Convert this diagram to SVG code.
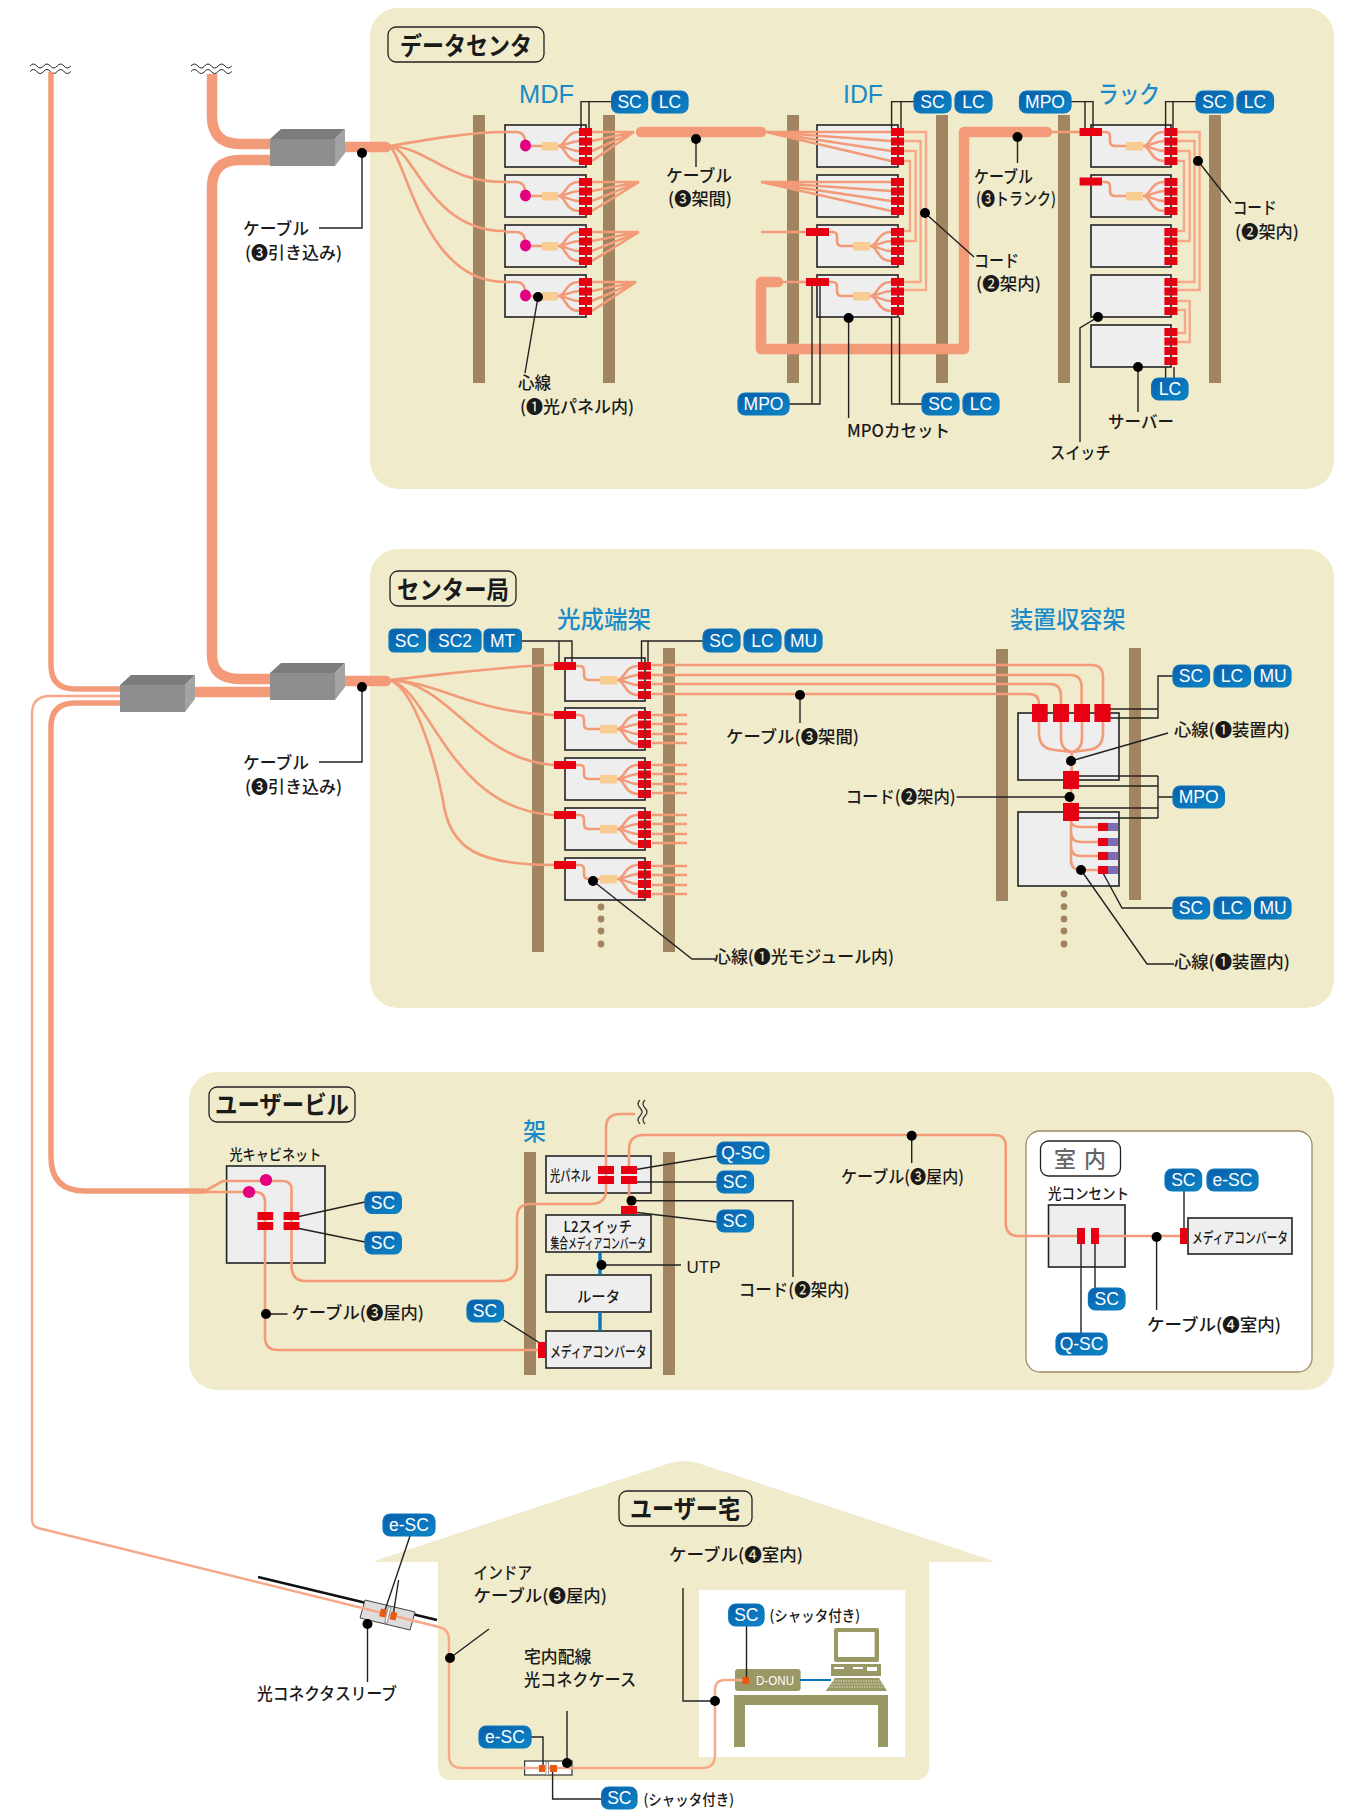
<svg xmlns="http://www.w3.org/2000/svg" width="1349" height="1810" viewBox="0 0 1349 1810">
<style>
text{font-family:"Noto Sans CJK JP","Noto Sans",sans-serif;fill:#1a1a1a}
.t{font-size:17px;font-weight:500}
.ts{font-size:15px;font-weight:500}
.title{font-size:25px;font-weight:700}
.h{font-size:25px;fill:#1a8bc8;font-family:"Liberation Sans","Noto Sans CJK JP",sans-serif}
.hj{font-size:24px;fill:#1a8bc8;font-weight:500}
.tag{fill:url(#tg);stroke:#0b78bc;stroke-width:1.2}
.tagt{font-family:"Liberation Sans",sans-serif;font-size:17.5px;fill:#fff;text-anchor:middle}
.panel{fill:#f0ebcb}
.post{fill:#a08560}
.box{fill:#eeeeee;stroke:#222;stroke-width:1.6}
.tb{fill:none;stroke:#222;stroke-width:1.3}
.c{fill:none;stroke:#f39b78;stroke-width:2.6}
.cl{fill:none;stroke:#f6a988;stroke-width:2.4}
.k{fill:none;stroke:#f39b78;stroke-width:10.5;stroke-linecap:round;stroke-linejoin:round}
.m{fill:none;stroke:#f39b78;stroke-width:5.5}
.l{fill:none;stroke:#222;stroke-width:1.4}
.d{fill:#000}
.r{fill:#e60012}
.tan{fill:#f9cc92}
.mg{fill:#e4007f}
.ol{fill:#9a9864}
.bd{fill:#a08560}
</style>
<defs>
<linearGradient id="tg" x1="0" y1="0" x2="1" y2="1"><stop offset="0" stop-color="#0a5dab"/><stop offset="1" stop-color="#0b88c8"/></linearGradient>
<g id="c4">
<rect class="r" x="0" y="3" width="6.3" height="8"/><rect class="r" x="6.7" y="3" width="6.3" height="8"/>
<rect class="r" x="0" y="12.5" width="6.3" height="8"/><rect class="r" x="6.7" y="12.5" width="6.3" height="8"/>
<rect class="r" x="0" y="22" width="6.3" height="8"/><rect class="r" x="6.7" y="22" width="6.3" height="8"/>
<rect class="r" x="0" y="32" width="6.3" height="8"/><rect class="r" x="6.7" y="32" width="6.3" height="8"/>
</g>
<g id="fan"><path class="c" d="M0,14C8,14 7,0 21,0M0,14C8,14 12,9 21,9M0,14C8,14 12,19 21,19M0,14C8,14 7,29 21,29"/></g>
<g id="mod"><path class="c" d="M0,0H4Q8,0 8,5V9Q8,14 13,14H24"/><rect class="tan" x="24" y="10" width="17" height="8.5"/><use href="#fan" x="41" y="0"/></g>
<g id="mdf"><path class="c" d="M0,7H11Q19,7 20,15M20,21H37"/><ellipse class="mg" cx="20.5" cy="20.5" rx="5.5" ry="6"/><rect class="tan" x="37" y="17" width="16" height="8.5"/><use href="#fan" x="53" y="7"/></g>
<path id="wave" d="M0,3q3.4,-4 6.8,0t6.8,0t6.8,0t6.8,0t6.8,0t6.8,0" fill="none" stroke="#222" stroke-width="1"/>
<g id="splice">
<polygon points="270,139 281,129 345,129 335,139" fill="#7c7c7c"/>
<polygon points="335,139 345,129 345,153 335,166" fill="#a3a3a3"/>
<rect x="270" y="139" width="65" height="27" fill="#8e8e8e"/>
</g>
</defs>

<g id="panels">
<rect class="panel" x="370" y="8" width="964" height="481" rx="28"/>
<rect class="panel" x="370" y="549" width="964" height="459" rx="28"/>
<rect class="panel" x="189" y="1072" width="1145" height="318" rx="28"/>
<rect x="1026" y="1131" width="286" height="241" rx="14" fill="#fff" stroke="#a08a6a" stroke-width="1.3"/>
<path class="panel" d="M375,1562Q375,1561 380,1559L670,1463Q684,1459 698,1463L988,1559Q993,1561 993,1562H929V1766Q929,1780 915,1780H452Q438,1780 438,1766V1562Z"/>
<rect x="699" y="1590" width="206" height="167" fill="#fff"/>
</g>

<g id="titles">
<g id="title-dc"><rect class="tb" x="388" y="27" width="156" height="35" rx="8"/><text class="title" x="400" y="55" textLength="132" lengthAdjust="spacingAndGlyphs">データセンタ</text></g>
<g id="title-co"><rect class="tb" x="390" y="571" width="126" height="35" rx="8"/><text class="title" x="397" y="599" textLength="112" lengthAdjust="spacingAndGlyphs">センター局</text></g>
<g id="title-ub"><rect class="tb" x="209" y="1087" width="146" height="35" rx="8"/><text class="title" x="215" y="1114" textLength="134" lengthAdjust="spacingAndGlyphs">ユーザービル</text></g>
<g id="title-room"><rect class="tb" x="1040.5" y="1141" width="80" height="35" rx="8"/><text x="1054" y="1167" style="font-size:22px;font-weight:500;fill:#666;white-space:pre" textLength="52" lengthAdjust="spacing">室 内</text></g>
<g id="title-home"><rect class="tb" x="619" y="1491" width="133" height="35" rx="8"/><text class="title" x="630" y="1518" textLength="110" lengthAdjust="spacingAndGlyphs">ユーザー宅</text></g>
</g>

<g id="racks">
<g id="rack-mdf"><rect class="post" x="473" y="115" width="12" height="268"/><rect class="post" x="603" y="115" width="12" height="268"/>
<rect class="box" x="505" y="125" width="81" height="42"/><rect class="box" x="505" y="175" width="81" height="42"/><rect class="box" x="505" y="225" width="81" height="42"/><rect class="box" x="505" y="275" width="81" height="42"/></g>
<g id="rack-idf"><rect class="post" x="787" y="115" width="12" height="268"/><rect class="post" x="936" y="115" width="12" height="268"/>
<rect class="box" x="817" y="125" width="81" height="42"/><rect class="box" x="817" y="175" width="81" height="42"/><rect class="box" x="817" y="225" width="81" height="42"/><rect class="box" x="817" y="275" width="81" height="42"/></g>
<g id="rack-server"><rect class="post" x="1058" y="115" width="12" height="268"/><rect class="post" x="1209" y="115" width="12" height="268"/>
<rect class="box" x="1091" y="125" width="80" height="42"/><rect class="box" x="1091" y="175" width="80" height="42"/><rect class="box" x="1091" y="225" width="80" height="42"/><rect class="box" x="1091" y="275" width="80" height="42"/><rect class="box" x="1091" y="325" width="80" height="42"/></g>
<g id="rack-odf"><rect class="post" x="532" y="648" width="12" height="304"/><rect class="post" x="663" y="648" width="12" height="304"/>
<rect class="box" x="565" y="658" width="80" height="43"/><rect class="box" x="565" y="708" width="80" height="42"/><rect class="box" x="565" y="758" width="80" height="42"/><rect class="box" x="565" y="808" width="80" height="42"/><rect class="box" x="565" y="858" width="80" height="42"/>
<g class="bd"><ellipse cx="601" cy="907" rx="3.4" ry="3.4"/><ellipse cx="601" cy="919" rx="3.4" ry="3.4"/><ellipse cx="601" cy="931" rx="3.4" ry="3.4"/><ellipse cx="601" cy="944" rx="3.4" ry="3.4"/></g></g>
<g id="rack-equip"><rect class="post" x="996" y="649" width="12" height="252"/><rect class="post" x="1129" y="648" width="12" height="252"/>
<rect class="box" x="1018" y="713" width="101" height="67"/><rect class="box" x="1018" y="812" width="101" height="74"/>
<g class="bd"><ellipse cx="1064" cy="894" rx="3.4" ry="3.4"/><ellipse cx="1064" cy="906.6" rx="3.4" ry="3.4"/><ellipse cx="1064" cy="919" rx="3.4" ry="3.4"/><ellipse cx="1064" cy="931" rx="3.4" ry="3.4"/><ellipse cx="1064" cy="944" rx="3.4" ry="3.4"/></g></g>
<g id="rack-ub"><rect class="post" x="524" y="1152" width="12" height="223"/><rect class="post" x="663" y="1152" width="12" height="223"/>
<rect class="box" x="546" y="1156" width="105" height="37"/><rect class="box" x="546" y="1215" width="105" height="37"/><rect class="box" x="546" y="1275" width="105" height="37"/><rect class="box" x="546" y="1331" width="105" height="37"/></g>
<g id="cabinet"><rect class="box" x="226.6" y="1166" width="98.4" height="97"/></g>
<g id="outlet"><rect class="box" x="1048.5" y="1205" width="76.5" height="62"/></g>
<g id="mc-room"><rect class="box" x="1188" y="1218" width="104" height="36"/></g>
<g id="computer">
<rect class="ol" x="834" y="1628" width="45" height="34" rx="2"/><rect x="838" y="1632" width="36.6" height="25" fill="#fff"/>
<rect class="ol" x="831" y="1664" width="50" height="12"/><rect x="834" y="1667" width="10" height="2" fill="#fff"/><rect x="853" y="1667" width="10" height="2" fill="#fff"/><rect x="867" y="1667" width="10" height="4" fill="#fff"/>
<polygon class="ol" points="835,1678 879,1678 887,1691 825.7,1691"/>
<path d="M833,1681H881M831,1684H883M829,1687H885" stroke="#dcdcc0" stroke-width="1" stroke-dasharray="1.5 1"/>
<rect class="ol" x="734" y="1695" width="154" height="10"/><rect class="ol" x="734" y="1695" width="11" height="52"/><rect class="ol" x="878" y="1695" width="10" height="52"/>
</g>
<g id="sleeve-wire"><path d="M258,1577L437,1620" stroke="#111" stroke-width="2.6" fill="none"/><polygon points="365,1600 415,1612 410,1630 360,1618" fill="#ddd" stroke="#444" stroke-width="1"/></g>
<g id="onu"><rect class="ol" x="735" y="1669" width="65.6" height="22" rx="3"/><text x="756" y="1685" style="font-family:'Liberation Sans',sans-serif;font-size:12.5px;fill:#fff" textLength="38" lengthAdjust="spacingAndGlyphs">D-ONU</text></g>
<g id="caseBox"><rect x="524.6" y="1761" width="47.4" height="14" fill="#fff" stroke="#333" stroke-width="1.2"/></g>
</g>

<g id="connectors">
<use href="#wave" x="30" y="63"/><use href="#wave" x="30" y="68.500"/><use href="#wave" x="191" y="63"/><use href="#wave" x="191" y="68.500"/>
<path class="m" d="M51,72V665Q51,689 75,689H120"/>
<path class="m" d="M120,703H75Q51,703 51,727V1157Q51,1191 85,1191H205"/>
<path class="cl" d="M120,696H50Q32,696 32,714V1520Q32,1526 38,1528L439,1627Q449,1629 449,1640V1755Q449,1768 462,1768H702Q715,1768 715,1755V1690Q715,1680 725,1680H745"/>
<path class="k" style="stroke-linecap:butt" d="M270,144H240Q212,144 212,116V74"/>
<path class="k" style="stroke-linecap:butt" d="M270,160H240Q212,160 212,188V655Q212,679 240,679H270"/>
<path class="k" d="M190,692H270"/>
<path class="k" d="M343,147H386"/><path class="k" d="M343,681H386"/>

<path class="c" d="M390,146C425,140 470,132 505,132M390,146C430,148 445,182 505,182M390,146C415,150 430,231 505,231M390,146C408,165 425,282 505,282"/>
<use href="#mdf" x="505" y="125"/><use href="#mdf" x="505" y="175"/><use href="#mdf" x="505" y="225"/><use href="#mdf" x="505" y="275"/>
<path class="c" d="M592,132H634M592,141L634,132M592,151L634,132M592,161L634,132M592,182H639M592,191L639,182M592,201L639,182M592,211L639,182M592,232H639M592,241L639,232M592,251L639,232M592,261L639,232M592,282H636M592,291L636,282M592,301L636,282M592,311L636,282"/>
<path class="k" d="M641,132H761"/>
<path class="c" d="M766,132H891M766,132L891,141M766,132L891,151M766,132L891,161M761,182H891M761,182L891,191M761,182L891,201M761,182L891,211M761,232H806M778,282H806"/>
<use href="#mod" x="829" y="232"/><use href="#mod" x="829" y="282"/>
<path class="k" d="M778,282H761V349H964V132H1047"/>
<path class="c" d="M1050,132H1080"/>
<path class="cl" d="M904,132H926V290H904M904,141H920.6V282H904M904,151H915.6V241H904M904,161H910V231H904"/>
<use href="#mod" x="1102" y="132"/><use href="#mod" x="1102" y="182"/>
<path class="cl" d="M1177,132H1199.6V290H1177M1177,141H1194.6V282H1177M1177,151H1189.7V241H1177M1177,161H1184V231H1177M1177,301H1189.7V342H1177M1177,310H1185V333H1177"/>

<path class="c" d="M390,680C440,675 500,666 554,665M390,680C440,682 470,712 554,715M390,680C450,682 475,760 554,765M390,680C430,690 450,810 554,815M390,680C415,690 435,760 443,800C449,850 480,865 554,865"/>
<use href="#mod" x="576" y="666"/><use href="#mod" x="576" y="715"/><use href="#mod" x="576" y="765"/><use href="#mod" x="576" y="815"/><use href="#mod" x="576" y="865"/>
<path class="c" d="M652,715H687M652,724H687M652,734H687M652,743H687M652,765H687M652,774H687M652,784H687M652,793H687M652,815H687M652,824H687M652,834H687M652,843H687M652,866H687M652,875H687M652,885H687M652,894H687"/>
<path class="c" d="M652,665H1091Q1103,665 1103,677V705M652,675H1070Q1081.6,675 1081.6,687V705M652,684H1050Q1061,684 1061,696V705M652,694H1029Q1039,694 1039,704V705"/>
<path class="c" d="M1039,722V733Q1039,749 1055,750L1071.7,752M1103,722V733Q1103,749 1087,750L1071.7,752M1061,722V738Q1061,750 1071.7,752M1082,722V738Q1082,750 1071.7,752M1071.7,752V771"/>
<path class="c" d="M1071,789V803M1071,821V860Q1071,870 1081,870H1098M1071,821Q1071,827 1081,827H1098M1071,832Q1071,842 1081,842H1098M1071,846Q1071,856 1081,856H1098"/>

<path class="c" d="M205,1191L223,1181H283Q291.5,1181 291.5,1190V1265Q291.5,1281 305,1281H500Q517,1281 517,1265V1218Q517,1204 530,1204H590Q606,1204 606,1190V1128Q606,1114 620,1114H635"/>
<path class="c" d="M205,1192H255Q265,1192 265,1202V1337Q265,1350 278,1350H538"/>
<path class="c" d="M629,1166V1150Q629,1135 644,1135H995Q1005.7,1135 1005.7,1146V1222Q1005.7,1236 1018,1236H1077M629,1184V1206M1099,1236H1181"/>
<path d="M640,1100q-4,4 0,8t0,8t0,8M645,1100q-4,4 0,8t0,8t0,8" fill="none" stroke="#333" stroke-width="1.2"/>
<path d="M600,1252V1275M600,1312V1331" fill="none" stroke="#0b74bd" stroke-width="3.4"/>
<path d="M800,1680H831" fill="none" stroke="#0b74bd" stroke-width="2"/>

<path class="l" d="M611.6,101.6H581V128M589,101.6V128M914,101.6H891.6V128M901,101.6V128M1071,101.6H1093V128M1085,101.6V128M1196,101.6H1165.6V128M1173,101.6V128"/>
<path class="l" d="M738,404H820V286M812,404V286M922,404H891.6V317M899.5,404V317"/>
<path class="l" d="M1165.6,378V367M1174,378V367"/>
<path class="l" d="M362,153V228H319M696,139V167M1017.5,137V163M925,213L974,257M1198,161L1231,203M848.6,318V418M1098,317L1080,328V442M1138,367V412M538,297L525,373"/>
<path class="l" d="M521.4,641H572V662M559,641V662M703,641H641.5V662M648,641V662"/>
<path class="l" d="M362,687V762H319M800,695V723M593,881L692,959H715"/>
<path class="l" d="M1173,676H1158V718H1100M1158,709H1100M1071,797H956.6M1173,797H1158M1158,776V818M1071,776H1158M1071,786H1158M1071,808H1158M1071,818H1158M1173,908H1122L1103,873M1071,761L1168,733M1081,870L1147,964H1174"/>
<path class="l" d="M717,1156L633,1170M717,1182H633M717,1222L633,1212M631.5,1200.7H793V1277M601.5,1265H681M365,1202L296.6,1217M365,1242L296.6,1228M503.5,1320L543,1345M266,1314H287.5"/>
<path class="l" d="M911.7,1135.7V1163M1156.6,1237V1310M1184,1191V1228M1095,1244V1288M1081,1244V1333"/>
<path class="l" d="M410,1536L384,1613M398.6,1580L393.5,1613M367.5,1624V1682M450,1658L489,1629M567,1711V1763M531,1737H543V1765M552.6,1772V1799H601.6M683,1588V1701H715M746.5,1626V1680"/>
</g>

<g id="splices">
<use href="#splice"/><use href="#splice" y="534"/><use href="#splice" x="-150" y="546"/>
</g>

<g id="ports">
<use href="#c4" x="579" y="125"/><use href="#c4" x="579" y="175"/><use href="#c4" x="579" y="225"/><use href="#c4" x="579" y="275"/>
<use href="#c4" x="891" y="125"/><use href="#c4" x="891" y="175"/><use href="#c4" x="891" y="225"/><use href="#c4" x="891" y="275"/>
<rect class="r" x="806" y="228" width="23" height="8"/><rect class="r" x="806" y="278" width="23" height="8"/>
<use href="#c4" x="1164.4" y="125"/><use href="#c4" x="1164.4" y="175"/><use href="#c4" x="1164.4" y="225"/><use href="#c4" x="1164.4" y="275"/><use href="#c4" x="1164.4" y="325"/>
<rect class="r" x="1079.6" y="128" width="22.4" height="8"/><rect class="r" x="1079.6" y="177.5" width="22.4" height="8"/>
<use href="#c4" x="638" y="659"/><use href="#c4" x="638" y="708"/><use href="#c4" x="638" y="758"/><use href="#c4" x="638" y="808"/><use href="#c4" x="638" y="858"/>
<rect class="r" x="554" y="662" width="22" height="8"/><rect class="r" x="554" y="711" width="22" height="8"/><rect class="r" x="554" y="761" width="22" height="8"/><rect class="r" x="554" y="811" width="22" height="8"/><rect class="r" x="554" y="861" width="22" height="8"/>
<rect class="r" x="1032" y="704" width="15.7" height="18"/><rect class="r" x="1053" y="704" width="16" height="18"/><rect class="r" x="1074" y="704" width="16" height="18"/><rect class="r" x="1094.4" y="704" width="16.2" height="18"/>
<rect class="r" x="1063" y="771" width="16" height="18"/><rect class="r" x="1063" y="803" width="16" height="18"/>
<rect class="r" x="1098" y="823" width="10" height="8"/><rect class="r" x="1098" y="838" width="10" height="8"/><rect class="r" x="1098" y="852" width="10" height="8"/><rect class="r" x="1098" y="866" width="10" height="8"/>
<g fill="#7f6cb0"><rect x="1108" y="823" width="10" height="8"/><rect x="1108" y="838" width="10" height="8"/><rect x="1108" y="852" width="10" height="8"/><rect x="1108" y="866" width="10" height="8"/></g>
<g class="mg"><ellipse cx="266" cy="1180" rx="6.2" ry="6"/><ellipse cx="249" cy="1192" rx="6.2" ry="6"/></g>
<rect class="r" x="257.5" y="1212" width="15.7" height="8"/><rect class="r" x="257.5" y="1222" width="15.7" height="8"/><rect class="r" x="283.6" y="1212" width="15.8" height="8"/><rect class="r" x="283.6" y="1222" width="15.8" height="8"/>
<rect class="r" x="598" y="1166" width="16" height="8"/><rect class="r" x="598" y="1176" width="16" height="8"/><rect class="r" x="621" y="1166" width="16" height="8"/><rect class="r" x="621" y="1176" width="16" height="8"/>
<rect class="r" x="621" y="1206" width="16" height="8"/><rect class="r" x="538" y="1342" width="8" height="16"/>
<rect class="r" x="1077" y="1228" width="8" height="16"/><rect class="r" x="1091" y="1228" width="8" height="16"/><rect class="r" x="1180" y="1228" width="7.5" height="16"/>
<g fill="#e8590c"><rect x="380" y="1609" width="6" height="8" transform="rotate(13 383 1613)"/><rect x="390.5" y="1612" width="6" height="8" transform="rotate(13 393.5 1616)"/><rect x="539" y="1765" width="6" height="7"/><rect x="550" y="1765" width="7" height="7"/><rect x="742.5" y="1677" width="6.5" height="7"/></g>
<rect x="386.5" y="1607" width="2.6" height="16" fill="#fff" stroke="#555" stroke-width=".6" transform="rotate(13 388 1615)"/>
<rect x="546" y="1762" width="2.6" height="13" fill="#fff" stroke="#555" stroke-width=".6"/>
</g>

<g id="dots" class="d">
<circle cx="362" cy="153" r="5"/><circle cx="696" cy="139" r="5"/><circle cx="1017.5" cy="137" r="5"/><circle cx="925" cy="213" r="5"/><circle cx="1198" cy="161" r="5"/><circle cx="848.6" cy="318" r="5"/><circle cx="1098" cy="317" r="5"/><circle cx="1138" cy="367" r="5"/><circle cx="538" cy="297" r="5"/>
<circle cx="362" cy="687" r="5"/><circle cx="800" cy="695" r="5"/><circle cx="593" cy="881" r="5"/><circle cx="1071" cy="761" r="5"/><circle cx="1069.6" cy="797" r="5"/><circle cx="1081" cy="870" r="5"/>
<circle cx="631.5" cy="1200.7" r="5"/><circle cx="601.5" cy="1265" r="5"/><circle cx="266" cy="1314" r="5"/><circle cx="911.7" cy="1135.7" r="5"/><circle cx="1156.6" cy="1237" r="5"/>
<circle cx="367.5" cy="1624" r="5"/><circle cx="450" cy="1658" r="5"/><circle cx="567" cy="1763" r="5"/><circle cx="715" cy="1701" r="5"/>
</g>

<g id="tags">
<g id="tag-mdf-sc"><rect class="tag" x="611.6" y="91" width="36" height="22" rx="7"/><text class="tagt" x="629.6" y="108">SC</text></g>
<g id="tag-mdf-lc"><rect class="tag" x="652" y="91" width="36" height="22" rx="7"/><text class="tagt" x="670" y="108">LC</text></g>
<g id="tag-idf-sc"><rect class="tag" x="914" y="91" width="37" height="22" rx="7"/><text class="tagt" x="932.5" y="108">SC</text></g>
<g id="tag-idf-lc"><rect class="tag" x="955" y="91" width="37" height="22" rx="7"/><text class="tagt" x="973.5" y="108">LC</text></g>
<g id="tag-rack-mpo"><rect class="tag" x="1019.5" y="91" width="51.5" height="22" rx="7"/><text class="tagt" x="1045" y="108">MPO</text></g>
<g id="tag-rack-sc"><rect class="tag" x="1196" y="91" width="37" height="22" rx="7"/><text class="tagt" x="1214.5" y="108">SC</text></g>
<g id="tag-rack-lc"><rect class="tag" x="1237" y="91" width="36.5" height="22" rx="7"/><text class="tagt" x="1255" y="108">LC</text></g>
<g id="tag-idf-mpo"><rect class="tag" x="738" y="393" width="51" height="22" rx="7"/><text class="tagt" x="763.5" y="410">MPO</text></g>
<g id="tag-idf-sc2"><rect class="tag" x="922" y="393" width="37" height="22" rx="7"/><text class="tagt" x="940.5" y="410">SC</text></g>
<g id="tag-idf-lc2"><rect class="tag" x="963" y="393" width="36" height="22" rx="7"/><text class="tagt" x="981" y="410">LC</text></g>
<g id="tag-rack-lc2"><rect class="tag" x="1151.6" y="378" width="36.4" height="22" rx="7"/><text class="tagt" x="1170" y="395">LC</text></g>
<g id="tag-co-sc"><rect class="tag" x="389" y="629" width="36.4" height="23" rx="5"/><text class="tagt" x="407" y="647">SC</text></g>
<g id="tag-co-sc2"><rect class="tag" x="429" y="629" width="52" height="23" rx="5"/><text class="tagt" x="455" y="647">SC2</text></g>
<g id="tag-co-mt"><rect class="tag" x="484" y="629" width="37.4" height="23" rx="5"/><text class="tagt" x="502.7" y="647">MT</text></g>
<g id="tag-odf-sc"><rect class="tag" x="703" y="629" width="37" height="23" rx="7"/><text class="tagt" x="721.5" y="647">SC</text></g>
<g id="tag-odf-lc"><rect class="tag" x="744" y="629" width="37" height="23" rx="7"/><text class="tagt" x="762.5" y="647">LC</text></g>
<g id="tag-odf-mu"><rect class="tag" x="785" y="629" width="37" height="23" rx="7"/><text class="tagt" x="803.5" y="647">MU</text></g>
<g id="tag-eq-sc"><rect class="tag" x="1173" y="665" width="36.5" height="22" rx="7"/><text class="tagt" x="1191" y="682">SC</text></g>
<g id="tag-eq-lc"><rect class="tag" x="1214" y="665" width="36.5" height="22" rx="7"/><text class="tagt" x="1232" y="682">LC</text></g>
<g id="tag-eq-mu"><rect class="tag" x="1254.6" y="665" width="36.4" height="22" rx="7"/><text class="tagt" x="1273" y="682">MU</text></g>
<g id="tag-eq-mpo"><rect class="tag" x="1173" y="786" width="51.4" height="22" rx="7"/><text class="tagt" x="1198.7" y="803">MPO</text></g>
<g id="tag-eq-sc2"><rect class="tag" x="1173" y="897" width="36.5" height="22" rx="7"/><text class="tagt" x="1191" y="914">SC</text></g>
<g id="tag-eq-lc2"><rect class="tag" x="1214" y="897" width="36.5" height="22" rx="7"/><text class="tagt" x="1232" y="914">LC</text></g>
<g id="tag-eq-mu2"><rect class="tag" x="1254.6" y="897" width="36.4" height="22" rx="7"/><text class="tagt" x="1273" y="914">MU</text></g>
<g id="tag-ub-qsc"><rect class="tag" x="717" y="1142" width="52" height="22" rx="7"/><text class="tagt" x="743" y="1159">Q-SC</text></g>
<g id="tag-ub-sc1"><rect class="tag" x="717" y="1171" width="36.5" height="22" rx="7"/><text class="tagt" x="735" y="1188">SC</text></g>
<g id="tag-ub-sc2"><rect class="tag" x="717" y="1210" width="36.5" height="22" rx="7"/><text class="tagt" x="735" y="1227">SC</text></g>
<g id="tag-cab-sc1"><rect class="tag" x="365" y="1192" width="36.4" height="21.500" rx="7"/><text class="tagt" x="383" y="1209">SC</text></g>
<g id="tag-cab-sc2"><rect class="tag" x="365" y="1232" width="36.4" height="22" rx="7"/><text class="tagt" x="383" y="1249">SC</text></g>
<g id="tag-ub-sc3"><rect class="tag" x="467" y="1300" width="36.5" height="22" rx="7"/><text class="tagt" x="485" y="1317">SC</text></g>
<g id="tag-room-sc"><rect class="tag" x="1165" y="1169" width="36.6" height="22" rx="7"/><text class="tagt" x="1183.3" y="1186">SC</text></g>
<g id="tag-room-esc"><rect class="tag" x="1207" y="1169" width="51" height="22" rx="7"/><text class="tagt" x="1232.5" y="1186">e-SC</text></g>
<g id="tag-room-sc2"><rect class="tag" x="1088.4" y="1288" width="36.6" height="22" rx="7"/><text class="tagt" x="1106.7" y="1305">SC</text></g>
<g id="tag-room-qsc"><rect class="tag" x="1056" y="1333" width="51" height="22" rx="7"/><text class="tagt" x="1081.5" y="1350">Q-SC</text></g>
<g id="tag-home-esc"><rect class="tag" x="383" y="1514" width="52" height="22" rx="7"/><text class="tagt" x="409" y="1531">e-SC</text></g>
<g id="tag-home-esc2"><rect class="tag" x="479" y="1726" width="52" height="22" rx="7"/><text class="tagt" x="505" y="1743">e-SC</text></g>
<g id="tag-home-sc"><rect class="tag" x="601.6" y="1787" width="35.400" height="22" rx="7"/><text class="tagt" x="619.3" y="1804">SC</text></g>
<g id="tag-home-sc2"><rect class="tag" x="728.7" y="1604" width="35.300" height="22" rx="7"/><text class="tagt" x="746.3" y="1621">SC</text></g>
</g>

<g id="labels">
<text class="h" x="519" y="103" textLength="55" lengthAdjust="spacingAndGlyphs">MDF</text>
<text class="h" x="843" y="103" textLength="40" lengthAdjust="spacingAndGlyphs">IDF</text>
<text class="hj" x="1098" y="103" textLength="62" lengthAdjust="spacingAndGlyphs">ラック</text>
<text class="hj" x="557" y="628" textLength="94" lengthAdjust="spacingAndGlyphs">光成端架</text>
<text class="hj" x="1010" y="628" textLength="115.500" lengthAdjust="spacingAndGlyphs">装置収容架</text>
<text class="hj" x="523" y="1140" textLength="23" lengthAdjust="spacingAndGlyphs">架</text>

<text class="t" x="243" y="235" textLength="66" lengthAdjust="spacingAndGlyphs">ケーブル</text>
<text class="t" x="245" y="259" textLength="97" lengthAdjust="spacingAndGlyphs">(❸引き込み)</text>
<text class="t" x="518" y="389" textLength="33" lengthAdjust="spacingAndGlyphs">心線</text>
<text class="t" x="520" y="413" textLength="114" lengthAdjust="spacingAndGlyphs">(❶光パネル内)</text>
<text class="t" x="666" y="182" textLength="66" lengthAdjust="spacingAndGlyphs">ケーブル</text>
<text class="t" x="668" y="205" textLength="64" lengthAdjust="spacingAndGlyphs">(❸架間)</text>
<text class="t" x="974" y="183" textLength="59" lengthAdjust="spacingAndGlyphs">ケーブル</text>
<text class="t" x="976" y="205" textLength="80" lengthAdjust="spacingAndGlyphs">(❸トランク)</text>
<text class="t" x="974" y="267" textLength="45" lengthAdjust="spacingAndGlyphs">コード</text>
<text class="t" x="976" y="290" textLength="65" lengthAdjust="spacingAndGlyphs">(❷架内)</text>
<text class="t" x="1232.7" y="214" textLength="44" lengthAdjust="spacingAndGlyphs">コード</text>
<text class="t" x="1235" y="238" textLength="64" lengthAdjust="spacingAndGlyphs">(❷架内)</text>
<text class="t" x="847" y="437" textLength="103" lengthAdjust="spacingAndGlyphs">MPOカセット</text>
<text class="t" x="1108" y="428" textLength="66" lengthAdjust="spacingAndGlyphs">サーバー</text>
<text class="t" x="1050" y="459" textLength="60.600" lengthAdjust="spacingAndGlyphs">スイッチ</text>

<text class="t" x="243" y="769" textLength="66" lengthAdjust="spacingAndGlyphs">ケーブル</text>
<text class="t" x="245" y="793" textLength="97" lengthAdjust="spacingAndGlyphs">(❸引き込み)</text>
<text class="t" x="726" y="743" textLength="133" lengthAdjust="spacingAndGlyphs">ケーブル(❸架間)</text>
<text class="t" x="845.700" y="803" textLength="110" lengthAdjust="spacingAndGlyphs">コード(❷架内)</text>
<text class="t" x="714" y="963" textLength="180" lengthAdjust="spacingAndGlyphs">心線(❶光モジュール内)</text>
<text class="t" x="1174" y="736" textLength="116" lengthAdjust="spacingAndGlyphs">心線(❶装置内)</text>
<text class="t" x="1174" y="968" textLength="116" lengthAdjust="spacingAndGlyphs">心線(❶装置内)</text>

<text class="ts" x="229.400" y="1159.500" textLength="92" lengthAdjust="spacingAndGlyphs">光キャビネット</text>
<text class="ts" x="550" y="1180.500" textLength="41" lengthAdjust="spacingAndGlyphs">光パネル</text>
<text class="ts" x="563.500" y="1231.500" textLength="68.500" lengthAdjust="spacingAndGlyphs">L2スイッチ</text>
<text x="550.500" y="1248" style="font-size:14px;font-weight:500" textLength="95.500" lengthAdjust="spacingAndGlyphs">集合メディアコンバータ</text>
<text class="ts" x="577" y="1301.500" textLength="43" lengthAdjust="spacingAndGlyphs">ルータ</text>
<text class="ts" x="550" y="1356.500" textLength="96.600" lengthAdjust="spacingAndGlyphs">メディアコンバータ</text>
<text class="t" x="291.500" y="1319" textLength="132.500" lengthAdjust="spacingAndGlyphs">ケーブル(❸屋内)</text>
<text class="t" x="686.500" y="1273" style="font-family:'Liberation Sans',sans-serif;font-weight:400" textLength="34" lengthAdjust="spacingAndGlyphs">UTP</text>
<text class="t" x="738.700" y="1296" textLength="111" lengthAdjust="spacingAndGlyphs">コード(❷架内)</text>
<text class="t" x="841" y="1183" textLength="123" lengthAdjust="spacingAndGlyphs">ケーブル(❸屋内)</text>
<text class="ts" x="1048" y="1198.500" textLength="81" lengthAdjust="spacingAndGlyphs">光コンセント</text>
<text class="ts" x="1192" y="1242.500" textLength="96" lengthAdjust="spacingAndGlyphs">メディアコンバータ</text>
<text class="t" x="1147" y="1331" textLength="134" lengthAdjust="spacingAndGlyphs">ケーブル(❹室内)</text>

<text class="t" x="257" y="1700" textLength="140" lengthAdjust="spacingAndGlyphs">光コネクタスリーブ</text>
<text class="t" x="473.600" y="1579" textLength="58.400" lengthAdjust="spacingAndGlyphs">インドア</text>
<text class="t" x="473.600" y="1602" textLength="133.400" lengthAdjust="spacingAndGlyphs">ケーブル(❸屋内)</text>
<text class="t" x="524" y="1663" textLength="67.400" lengthAdjust="spacingAndGlyphs">宅内配線</text>
<text class="t" x="524" y="1686" textLength="112" lengthAdjust="spacingAndGlyphs">光コネクケース</text>
<text class="t" x="669" y="1561" textLength="134" lengthAdjust="spacingAndGlyphs">ケーブル(❹室内)</text>
<text class="ts" x="769.500" y="1621" textLength="90.500" lengthAdjust="spacingAndGlyphs">(シャッタ付き)</text>
<text class="ts" x="643.500" y="1805" textLength="90.500" lengthAdjust="spacingAndGlyphs">(シャッタ付き)</text>
</g>
</svg>
